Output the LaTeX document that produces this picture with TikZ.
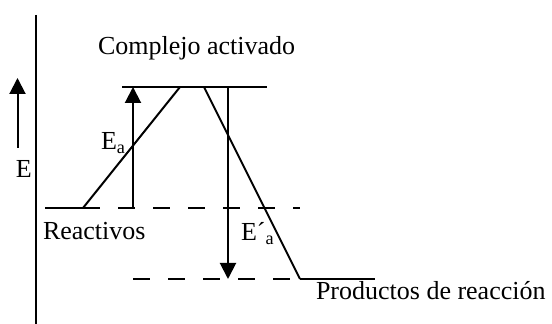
\documentclass[tikz,border=0pt]{standalone}
\usepackage{fontspec}
\setmainfont{Liberation Serif}
\usetikzlibrary{arrows.meta}

\begin{document}
\begin{tikzpicture}[x=0.5pt,y=-0.5pt,line width=1pt,
    font=\fontsize{13}{15}\selectfont,
    lbl/.style={inner sep=0pt,anchor=base west},
    level/.style={dash pattern=on 8.5pt off 9pt},
    arr/.style={-{Triangle[width=8pt,length=8pt]}}]
    \useasboundingbox (0,0) rectangle (552,324);
    % axis
    \coordinate (axtop) at (36,15);
    \coordinate (axbot) at (36,324);
    \draw (axtop) -- (axbot);
    \coordinate (eup0) at (17.5,148);
    \coordinate (eup1) at (17.5,78);
    \draw[arr] (eup0) -- (eup1);
    \node[lbl] (elbl) at (15,178) {E};
    % levels
    \coordinate (r0) at (45,208);
    \coordinate (r1) at (83,208);
    \coordinate (r2) at (300,208);
    \coordinate (c0) at (122,87);
    \coordinate (c1) at (267,87);
    \coordinate (p0) at (133,279);
    \coordinate (p1) at (300,279);
    \coordinate (p2) at (375,279);
    \draw (r0) -- (r1);
    \draw[level] (r1) -- (r2);
    \draw (c0) -- (c1);
    \draw[level] (p0) -- (p1);
    \draw (p1) -- (p2);
    % reaction path
    \coordinate (top0) at (180,87);
    \coordinate (top1) at (204,87);
    \draw (r1) -- (top0) (top1) -- (p1);
    % activation energies
    \coordinate (ea0) at (133,208);
    \coordinate (ea1) at (133,87);
    \draw[arr] (ea0) -- (ea1);
    \coordinate (eb0) at (228,87);
    \coordinate (eb1) at (228,279);
    \draw[arr] (eb0) -- (eb1);
    % labels
    \node[lbl] (complejo) at (97,55) {Complejo activado};
    \node[lbl] (ealbl) at (100,150) {E\textsubscript{a}};
    \node[lbl] (reactivos) at (42,240) {Reactivos};
    \node[lbl] (eblbl) at (240,241) {E´\textsubscript{a}};
    \node[lbl] (productos) at (315,300) {Productos de reacción};
\end{tikzpicture}
\end{document}
